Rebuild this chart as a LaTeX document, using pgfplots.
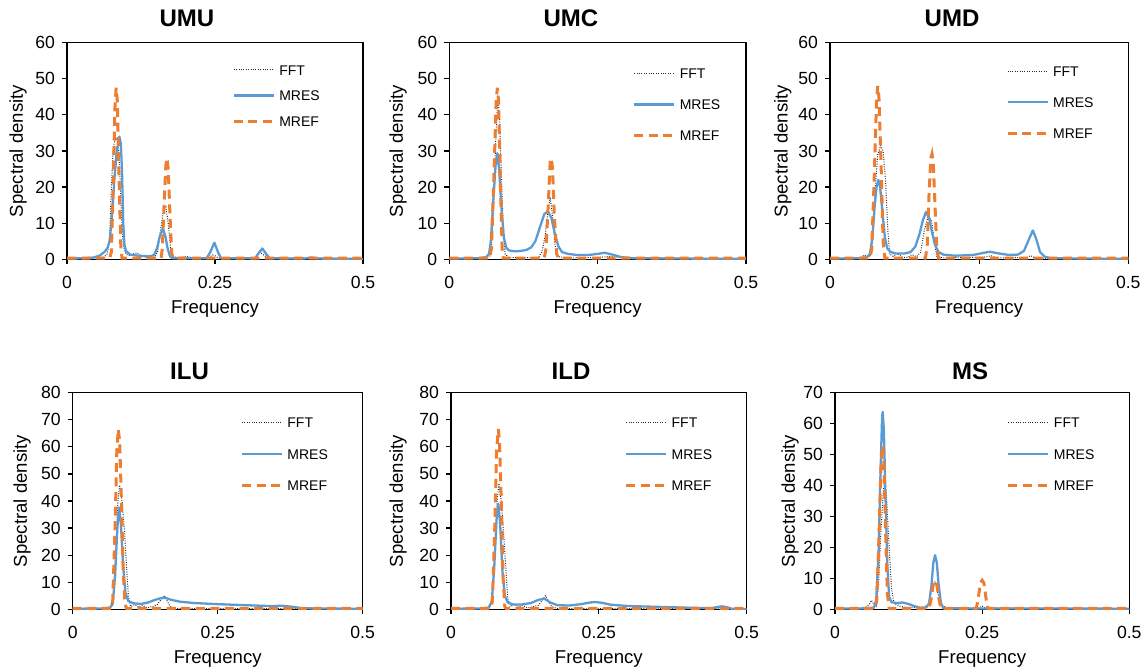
\documentclass[border=0pt]{standalone}
\usepackage{fontspec}
\setmainfont{Liberation Sans}
\usepackage{pgfplots}
\pgfplotsset{compat=1.18}

\definecolor{mresblue}{HTML}{5B9BD5}
\definecolor{mreforange}{HTML}{ED7D31}
\newcommand{\tickfont}{\fontsize{8.8}{10}\selectfont}
\newcommand{\labfont}{\fontsize{9.3}{11}\selectfont}
\newcommand{\legfont}{\fontsize{7}{8}\selectfont}
\newcommand{\titlefont}{\bfseries\fontsize{12}{14}\selectfont}

\pgfplotsset{
  panel/.style={
    scale only axis, anchor=south west, height=108.3pt,
    xmin=0, xmax=0.5, ymin=0,
    xtick={0,0.25,0.5}, xticklabels={0,0.25,0.5},
    xtick pos=bottom, ytick pos=left, tick align=outside,
    major tick length=2.5pt,
    axis line style={black, line width=0.6pt},
    tick style={black, line width=0.6pt},
    /pgf/number format/assume math mode=true,
    tick label style={font=\tickfont},
    xticklabel style={yshift=-2.5pt},
    label style={font=\labfont},
    xlabel={Frequency}, ylabel={Spectral density},
    xlabel style={at={(axis description cs:0.5,0)}, anchor=base, yshift=-27pt},
    title style={font=\titlefont, anchor=base},
    legend cell align=left,
    legend image code/.code={\draw[##1] (0pt,0pt) -- (20pt,0pt);},
    legend style={draw=none, fill=none, inner sep=0pt, font=\legfont,
      nodes={inner sep=0pt, text height=5.3pt, text depth=0pt},
      /tikz/every odd column/.append style={column sep=2pt}},
  },
  leg/.style n args={3}{legend style={at={(axis description cs:#1,#2)},
      anchor=north west, yshift=2.65pt, row sep=#3}},
  ylab/.style={ylabel style={at={(axis description cs:#1,0.5)}, anchor=center}},
  tit/.style 2 args={title style={at={(axis description cs:#1,1)}, yshift=#2}},
  fft/.style={black!85, line width=0.5pt, dash pattern=on 0.45pt off 0.75pt},
  mres/.style={mresblue, line width=1.15pt, line join=round},
  mref/.style={mreforange, line width=1.5pt, dash pattern=on 4.5pt off 2.8pt},
}

\begin{document}
\begin{tikzpicture}
\useasboundingbox (0,0) rectangle (573.5pt,-336pt);

% ---------- UMU ----------
\begin{axis}[panel, at={(33.5pt,-129.65pt)}, width=148pt,
  ymax=60, ytick distance=10, title={UMU}, tit={0.405}{2pt},
  ylab={-0.1655}, leg={0.557}{0.877}{7.55pt}]
\addplot[fft] coordinates {(0,0.2) (0.05,0.3) (0.062,0.6) (0.068,1.5) (0.072,6) (0.075,20) (0.078,31) (0.082,33.5) (0.086,33) (0.089,25) (0.092,12) (0.095,4) (0.099,1.5) (0.105,1) (0.112,1.5) (0.118,1.8) (0.125,1) (0.135,0.5) (0.148,0.6) (0.153,2) (0.158,8) (0.163,13.5) (0.167,14.5) (0.171,10) (0.175,3) (0.18,0.7) (0.19,0.5) (0.2,0.8) (0.215,0.4) (0.24,0.5) (0.246,1.2) (0.25,1) (0.256,0.3) (0.32,0.5) (0.326,2) (0.332,1.2) (0.34,0.3) (0.41,0.4) (0.5,0.2)};
\addlegendentry{FFT}
\addplot[mres] coordinates {(0,0.2) (0.03,0.3) (0.045,0.5) (0.055,1) (0.063,2) (0.068,3) (0.072,5) (0.076,12) (0.08,22) (0.084,30) (0.0885,34) (0.091,32) (0.093,24) (0.095,10) (0.097,4) (0.1,2.2) (0.107,1.3) (0.12,1) (0.14,0.8) (0.147,1.2) (0.152,3) (0.157,6.5) (0.162,8.5) (0.166,6.5) (0.17,3) (0.174,0.8) (0.178,0.3) (0.236,0.3) (0.242,2) (0.249,4.6) (0.255,2) (0.26,0.3) (0.318,0.3) (0.324,1.8) (0.33,3) (0.336,1.6) (0.342,0.3) (0.4,0.2) (0.413,0.5) (0.425,0.2) (0.5,0.1)};
\addlegendentry{MRES}
\addplot[mref] coordinates {(0,0.3) (0.072,0.3) (0.075,2) (0.078,20) (0.081,42) (0.083,47.5) (0.085,44) (0.088,22) (0.091,3) (0.093,0.3) (0.159,0.3) (0.161,3) (0.164,15) (0.167,26) (0.169,28) (0.171,25) (0.174,12) (0.177,1.5) (0.179,0.3) (0.5,0.3)};
\addlegendentry{MREF}
\end{axis}

% ---------- UMC ----------
\begin{axis}[panel, at={(224.65pt,-129.65pt)}, width=148.35pt,
  ymax=60, ytick distance=10, title={UMC}, tit={0.41}{2pt},
  ylab={-0.173}, leg={0.617}{0.859}{10.1pt}]
\addplot[fft] coordinates {(0,0.2) (0.06,0.3) (0.07,1) (0.074,12) (0.078,32) (0.082,45.3) (0.085,38) (0.088,22) (0.091,8) (0.094,1.5) (0.1,0.5) (0.12,0.4) (0.15,0.5) (0.156,2) (0.161,6) (0.166,13) (0.17,17.2) (0.174,12) (0.178,4) (0.183,0.7) (0.2,0.4) (0.25,0.5) (0.27,0.8) (0.3,0.3) (0.38,0.3) (0.5,0.2)};
\addlegendentry{FFT}
\addplot[mres] coordinates {(0,0.2) (0.05,0.3) (0.062,0.6) (0.067,1.5) (0.07,5) (0.074,16) (0.078,26) (0.081,29.4) (0.084,25) (0.088,14) (0.092,6) (0.096,3.2) (0.1,2.5) (0.11,2.2) (0.12,2.3) (0.13,2.6) (0.138,3.3) (0.145,5) (0.152,8.5) (0.16,12.5) (0.166,13.3) (0.172,11.5) (0.178,7) (0.184,3.5) (0.19,2) (0.2,1.5) (0.215,1.2) (0.235,1.2) (0.25,1.5) (0.262,1.8) (0.275,1.3) (0.29,0.6) (0.31,0.3) (0.4,0.2) (0.5,0.1)};
\addlegendentry{MRES}
\addplot[mref] coordinates {(0,0.3) (0.068,0.3) (0.071,3) (0.075,22) (0.079,44) (0.081,47.5) (0.083,44) (0.086,22) (0.089,3) (0.091,0.3) (0.16,0.3) (0.163,3) (0.167,16) (0.17,27) (0.172,28) (0.174,25) (0.177,12) (0.181,1.5) (0.184,0.3) (0.5,0.3)};
\addlegendentry{MREF}
\end{axis}

% ---------- UMD ----------
\begin{axis}[panel, at={(415pt,-129.65pt)}, width=149.15pt,
  ymax=60, ytick distance=10, title={UMD}, tit={0.409}{2pt},
  ylab={-0.158}, leg={0.589}{0.871}{10.35pt}]
\addplot[fft] coordinates {(0,0.2) (0.05,0.3) (0.058,1.2) (0.063,0.5) (0.068,1) (0.072,6) (0.076,20) (0.08,29) (0.085,31.5) (0.089,30) (0.093,22) (0.097,8) (0.1,1.5) (0.106,0.8) (0.113,1.7) (0.12,0.6) (0.13,0.5) (0.137,1.3) (0.145,0.7) (0.152,2) (0.158,8) (0.164,11.5) (0.17,11) (0.175,5) (0.179,0.8) (0.19,0.4) (0.26,0.6) (0.27,1) (0.28,0.4) (0.33,0.5) (0.336,1) (0.345,0.3) (0.5,0.2)};
\addlegendentry{FFT}
\addplot[mres] coordinates {(0,0.2) (0.05,0.3) (0.062,0.6) (0.067,1.5) (0.071,6) (0.075,15) (0.078,20) (0.081,22) (0.084,20) (0.088,13) (0.092,6) (0.096,3) (0.102,2) (0.11,1.6) (0.125,1.6) (0.135,2) (0.143,3.5) (0.15,7) (0.156,11) (0.161,13.1) (0.166,11.5) (0.171,7.5) (0.176,4) (0.182,2) (0.19,1.3) (0.21,1) (0.24,1.2) (0.255,1.7) (0.268,2.1) (0.28,1.7) (0.3,1.2) (0.315,1.3) (0.325,2.3) (0.332,5) (0.34,8) (0.346,5.5) (0.352,2) (0.36,0.7) (0.37,0.3) (0.5,0.1)};
\addlegendentry{MRES}
\addplot[mref] coordinates {(0,0.3) (0.067,0.3) (0.07,3) (0.074,22) (0.078,44) (0.08,48) (0.082,45) (0.086,24) (0.089,5) (0.092,0.3) (0.16,0.3) (0.163,4) (0.166,18) (0.169,28) (0.171,29.2) (0.173,27) (0.176,15) (0.179,3) (0.182,0.3) (0.5,0.3)};
\addlegendentry{MREF}
\end{axis}

% ---------- ILU ----------
\begin{axis}[panel, at={(36.35pt,-304.65pt)}, width=145pt,
  ymax=80, ytick distance=10, title={ILU}, tit={0.403}{0.7pt},
  ylab={-0.175}, leg={0.577}{0.866}{10.5pt}]
\addplot[fft] coordinates {(0,0.2) (0.06,0.3) (0.066,1.5) (0.07,5) (0.074,20) (0.078,40) (0.081,45.9) (0.085,40) (0.089,30) (0.093,15) (0.096,5) (0.1,1) (0.107,1.8) (0.114,0.8) (0.12,1.5) (0.128,0.5) (0.145,1.5) (0.152,3.5) (0.158,5) (0.163,3) (0.168,1) (0.18,0.3) (0.5,0.2)};
\addlegendentry{FFT}
\addplot[mres] coordinates {(0,0.2) (0.05,0.3) (0.064,0.5) (0.069,2) (0.073,12) (0.077,30) (0.08,37.6) (0.083,32) (0.087,16) (0.091,6) (0.096,3) (0.105,2.2) (0.118,2) (0.13,2.5) (0.142,3.5) (0.152,4.1) (0.16,4.2) (0.17,3.5) (0.185,2.8) (0.21,2.3) (0.25,1.9) (0.3,1.5) (0.34,1.2) (0.362,1.3) (0.38,0.9) (0.395,0.4) (0.42,0.3) (0.5,0.2)};
\addlegendentry{MRES}
\addplot[mref] coordinates {(0,0.3) (0.066,0.3) (0.069,3) (0.073,30) (0.076,58) (0.0786,66.6) (0.081,62) (0.084,40) (0.087,15) (0.09,2) (0.093,0.3) (0.5,0.3)};
\addlegendentry{MREF}
\end{axis}

% ---------- ILD ----------
\begin{axis}[panel, at={(225.5pt,-304.65pt)}, width=147.85pt,
  ymax=80, ytick distance=10, title={ILD}, tit={0.406}{0.7pt},
  ylab={-0.179}, leg={0.586}{0.866}{10.5pt}]
\addplot[fft] coordinates {(0,0.2) (0.06,0.3) (0.066,1.5) (0.07,5) (0.074,20) (0.078,40) (0.081,46.5) (0.085,40) (0.089,28) (0.093,14) (0.096,4) (0.1,1) (0.107,1.8) (0.114,0.8) (0.12,1.5) (0.13,0.5) (0.148,1.5) (0.155,3.5) (0.16,5.1) (0.165,3) (0.17,1) (0.18,0.3) (0.5,0.2)};
\addlegendentry{FFT}
\addplot[mres] coordinates {(0,0.2) (0.05,0.3) (0.064,0.6) (0.069,3) (0.073,15) (0.077,33) (0.08,39) (0.083,32) (0.087,14) (0.091,5) (0.096,2.5) (0.105,1.8) (0.12,1.8) (0.135,2.3) (0.148,3.5) (0.158,3.9) (0.168,2.5) (0.18,1.5) (0.2,1.4) (0.22,1.9) (0.235,2.5) (0.2435,2.7) (0.255,2.4) (0.27,1.7) (0.3,1.2) (0.35,0.9) (0.4,0.6) (0.44,0.4) (0.452,0.9) (0.458,1.1) (0.466,0.8) (0.475,0.2) (0.5,0.1)};
\addlegendentry{MRES}
\addplot[mref] coordinates {(0,0.3) (0.067,0.3) (0.07,3) (0.074,30) (0.077,58) (0.08,66.6) (0.082,62) (0.085,40) (0.088,12) (0.091,1) (0.093,0.3) (0.5,0.3)};
\addlegendentry{MREF}
\end{axis}

% ---------- MS ----------
\begin{axis}[panel, at={(417.5pt,-304.65pt)}, width=147.15pt,
  ymax=70, ytick distance=10, title={MS}, tit={0.459}{0.7pt},
  ylab={-0.153}, leg={0.583}{0.866}{10.5pt}]
\addplot[fft] coordinates {(0,0.2) (0.05,0.3) (0.058,1.5) (0.062,2.9) (0.066,1.5) (0.07,1) (0.074,8) (0.078,25) (0.082,38) (0.085,41.8) (0.088,35) (0.092,20) (0.096,7) (0.1,2) (0.11,1) (0.12,0.6) (0.15,0.5) (0.158,1.5) (0.164,6) (0.17,9) (0.175,5) (0.18,1.5) (0.19,0.5) (0.245,0.5) (0.25,1) (0.255,0.5) (0.5,0.2)};
\addlegendentry{FFT}
\addplot[mres] coordinates {(0,0.2) (0.05,0.3) (0.066,0.5) (0.07,3) (0.074,18) (0.077,42) (0.08,62) (0.081,63.8) (0.083,58) (0.086,35) (0.089,14) (0.092,4) (0.096,2.3) (0.105,2) (0.115,2.2) (0.125,1.7) (0.135,1) (0.145,0.5) (0.155,0.6) (0.16,2) (0.164,8) (0.167,15) (0.17,17.5) (0.173,15) (0.176,8) (0.18,2) (0.184,0.3) (0.5,0.2)};
\addlegendentry{MRES}
\addplot[mref] coordinates {(0,0.3) (0.068,0.3) (0.071,3) (0.075,25) (0.078,46) (0.081,53) (0.083,48) (0.086,25) (0.089,5) (0.092,0.3) (0.16,0.3) (0.163,3) (0.167,8) (0.17,9.3) (0.173,8) (0.177,3) (0.18,0.3) (0.24,0.3) (0.243,3) (0.247,8.5) (0.25,9.4) (0.253,8.5) (0.257,3) (0.26,0.3) (0.5,0.3)};
\addlegendentry{MREF}
\end{axis}
\end{tikzpicture}
\end{document}
